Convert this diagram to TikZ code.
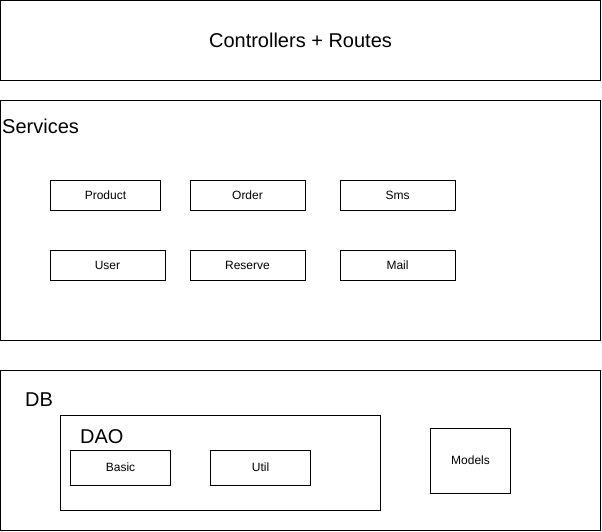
\documentclass[tikz,border=0pt]{standalone}
\usepackage{fontspec}
\setmainfont{Liberation Sans}
\begin{document}
\begin{tikzpicture}[x=1pt,y=-1pt,
  box/.style={draw=black,line width=1pt,inner sep=0pt},
  small/.style={font=\fontsize{12}{14}\selectfont},
  big/.style={font=\fontsize{20}{23}\selectfont}]
\useasboundingbox (0,0) rectangle (602,532);
% top
\node[box,minimum width=600pt,minimum height=80pt,big] (ctrl) at (300.5,40.5) {Controllers + Routes};
% services
\node[box,minimum width=600pt,minimum height=240pt] (svc) at (300.5,220.5) {};
\node[big,anchor=west,inner sep=0pt] (svct) at (2,126) {Services};
\node[box,minimum width=110pt,minimum height=30pt,small] (prod) at (105.5,195.5) {Product};
\node[box,minimum width=115pt,minimum height=30pt,small] (order) at (247.5,195.5) {Order};
\node[box,minimum width=115pt,minimum height=30pt,small] (sms) at (397.5,195.5) {Sms};
\node[box,minimum width=115pt,minimum height=30pt,small] (user) at (107.5,265.5) {User};
\node[box,minimum width=115pt,minimum height=30pt,small] (res) at (247.5,265.5) {Reserve};
\node[box,minimum width=115pt,minimum height=30pt,small] (mail) at (397.5,265.5) {Mail};
% DB
\node[box,minimum width=600pt,minimum height=160pt] (db) at (300.5,450.5) {};
\node[big,anchor=west,inner sep=0pt] (dbt) at (25,400) {DB};
\node[box,minimum width=320pt,minimum height=95pt] (dao) at (220.5,462.5) {};
\node[big,anchor=west,inner sep=0pt] (daot) at (80,437) {DAO};
\node[box,minimum width=100pt,minimum height=35pt,small] (basic) at (120.5,467.5) {Basic};
\node[box,minimum width=100pt,minimum height=35pt,small] (util) at (260.5,467.5) {Util};
\node[box,minimum width=80pt,minimum height=65pt,small] (models) at (470.5,460.5) {Models};
\end{tikzpicture}
\end{document}
